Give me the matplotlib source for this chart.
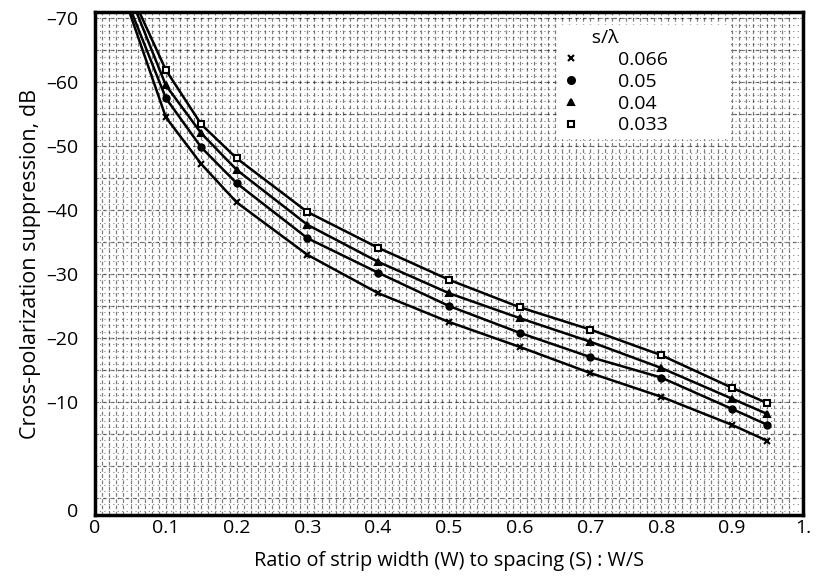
import matplotlib
matplotlib.use("Agg")
import matplotlib.pyplot as plt
from matplotlib.lines import Line2D

plt.rcParams['font.family'] = ['Open Sans', 'DejaVu Sans']

# W/S ratio; first point has no marker (curve start above the frame)
ws = [0.05, 0.1, 0.15, 0.2, 0.3, 0.4, 0.5, 0.6, 0.7, 0.8, 0.9, 0.95]

# cross-polarization suppression (dB)
xp_0033 = [-74.0, -61.9, -53.4, -48.1, -39.7, -34.1, -29.1, -24.8, -21.3, -17.3, -12.2, -9.8]
xp_004 = [-73.3, -59.5, -52.0, -46.3, -37.7, -31.9, -27.0, -23.1, -19.4, -15.3, -10.5, -8.1]
xp_005 = [-71.4, -57.5, -49.8, -44.2, -35.6, -30.2, -25.0, -20.8, -17.0, -13.8, -8.9, -6.4]
xp_0066 = [-70.5, -54.5, -47.2, -41.2, -33.0, -27.0, -22.5, -18.6, -14.5, -10.8, -6.4, -3.9]

series = {"0.066": (xp_0066, "x"), "0.05": (xp_005, "o"),
          "0.04": (xp_004, "^"), "0.033": (xp_0033, "s")}

x_ticks = [0, 0.1, 0.2, 0.3, 0.4, 0.5, 0.6, 0.7, 0.8, 0.9, 1.0]
x_labels = ["0", "0.1", "0.2", "0.3", "0.4", "0.5", "0.6", "0.7", "0.8", "0.9", "1."]
y_ticks = [-70, -60, -50, -40, -30, -20, -10, 6.9]
y_labels = ["\u201370", "\u201360", "\u201350", "\u201340", "\u201330", "\u201320", "\u201310", "0"]

fig = plt.figure(figsize=(8.2, 5.83), dpi=100)
ax = fig.add_axes([0.116, 0.117, 0.863, 0.862])

# graph-paper texture of the scan
for i in range(1, 99):
    ax.axvline(i / 100, color="black", lw=0.9, ls=(0, (3, 2)), alpha=0.5, zorder=0)
for gy in range(-70, 8):
    ax.axhline(gy, color="black", lw=0.8, ls=(0, (1, 3)), alpha=0.5, zorder=0)
for gy in range(-70, 8, 5):
    ax.axhline(gy, color="black", lw=0.9, ls=(0, (3, 3)), alpha=0.5, zorder=0)

handles = []
for name, (vals, mk) in series.items():
    face = "white" if mk == "s" else "black"
    ax.plot(ws, vals, color="black", lw=1.8, marker=mk, ms=4.5, mew=1.5,
            mfc=face, mec="black", markevery=slice(1, None), zorder=3)
    handles.append(Line2D([], [], ls="none", marker=mk, ms=5, mew=1.5,
                          mfc=face, mec="black", color="black", label=name))

ax.set_xlim(0, 0.99)
ax.set_ylim(7.66, -70.94)
ax.set_xticks(x_ticks)
ax.set_xticklabels(x_labels, fontsize=14)
ax.set_yticks(y_ticks)
ax.set_yticklabels(y_labels, fontsize=14)
ax.tick_params(length=0)
ax.tick_params(axis="y", pad=12)
ax.tick_params(axis="x", pad=3)
for sp in ax.spines.values():
    sp.set_linewidth(2.5)

ax.set_xlabel("Ratio of strip width (W) to spacing (S) : W/S", fontsize=14.3, labelpad=10)
ax.set_ylabel("Cross-polarization suppression, dB", fontsize=15.5, labelpad=4)

leg = ax.legend(handles=handles, title="      s/\u03bb", loc="upper left",
                bbox_to_anchor=(0.639, 0.716, 0.27, 0.278), mode="expand",
                fontsize=14, title_fontsize=14,
                frameon=True, fancybox=False, edgecolor="white", framealpha=1,
                handletextpad=1.95, labelspacing=0.2, borderpad=0.2,
                handlelength=1.0)
leg._legend_box.align = "left"

fig.savefig("out.png", dpi=100)
